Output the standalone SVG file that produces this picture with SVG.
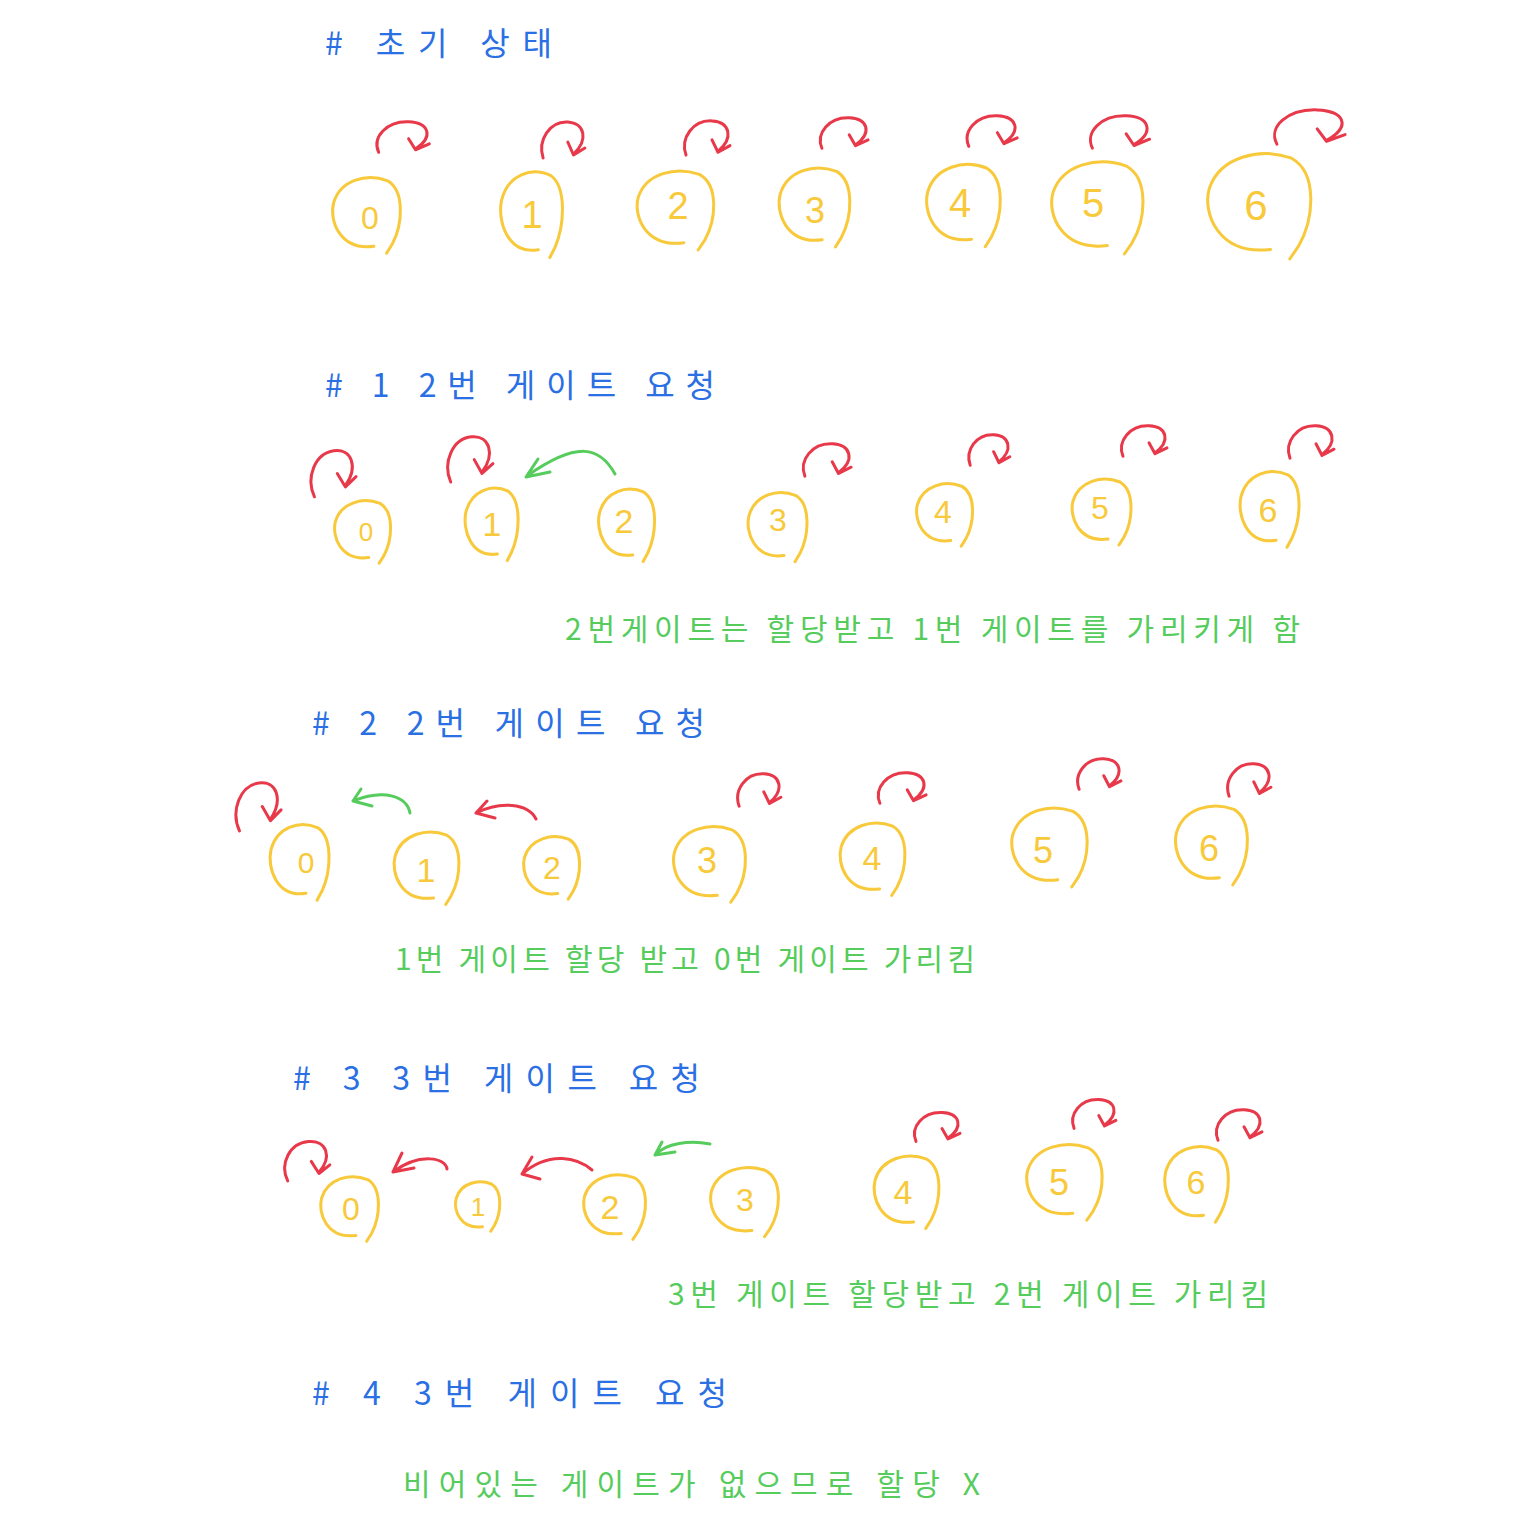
<svg xmlns="http://www.w3.org/2000/svg" xmlns:xlink="http://www.w3.org/1999/xlink" width="1536" height="1534" viewBox="0 0 1536 1534">
<style>
.bg{fill:#ffffff}
.node{fill:none;stroke:#F8C93A;stroke-width:3;stroke-linecap:round;stroke-linejoin:round}
.num{fill:#F8C93A;font-family:"Liberation Sans","DejaVu Sans",sans-serif;text-anchor:middle;dominant-baseline:central}
.loop{fill:none;stroke:#E8394B;stroke-width:3;stroke-linecap:round;stroke-linejoin:round}
.red{fill:none;stroke:#E8394B;stroke-width:3;stroke-linecap:round;stroke-linejoin:round}
.grn{fill:none;stroke:#55CC5C;stroke-width:3;stroke-linecap:round;stroke-linejoin:round}
.head{fill:#2A6FE3;font-family:"Noto Sans CJK KR","Noto Sans",sans-serif;font-size:32px}
.note{fill:#55CC5C;font-family:"Noto Sans CJK KR","Noto Sans",sans-serif;font-size:30px}
</style>
<defs>
<path id="egg" vector-effect="non-scaling-stroke" d="M 6,29 C -24,33 -33,6 -29,-9 C -23,-29 0,-35 18,-28 C 33,-19 31,10 22,27 L 17,35"/>
<path id="curl" vector-effect="non-scaling-stroke" d="M -22,18 C -28,0 -15,-19 4,-18 C 22,-17 26,0 10,14 M 4,2 L 10,15 L 22,8"/>
</defs>
<rect class="bg" width="1536" height="1534"/>

<g id="labels">
<text class="head" x="325" y="55" textLength="227" lengthAdjust="spacing"># 초기 상태</text>
<text class="head" x="325" y="397" textLength="390" lengthAdjust="spacing"># 1  2번 게이트 요청</text>
<text class="note" x="565" y="640" textLength="735" lengthAdjust="spacing">2번게이트는 할당받고 1번 게이트를 가리키게 함</text>
<text class="head" x="312" y="735" textLength="393" lengthAdjust="spacing"># 2  2번 게이트 요청</text>
<text class="note" x="395" y="970" textLength="580" lengthAdjust="spacing">1번 게이트 할당 받고 0번 게이트 가리킴</text>
<text class="head" x="293" y="1090" textLength="407" lengthAdjust="spacing"># 3  3번 게이트 요청</text>
<text class="note" x="668" y="1305" textLength="600" lengthAdjust="spacing">3번 게이트 할당받고 2번 게이트 가리킴</text>
<text class="head" x="312" y="1405" textLength="415" lengthAdjust="spacing"># 4  3번 게이트 요청</text>
<text class="note" x="403" y="1495" textLength="577" lengthAdjust="spacing">비어있는 게이트가 없으므로 할당 X</text>
</g>

<!-- Row 0: initial state -->
<g id="r0-n0"><use href="#egg" class="node" transform="translate(367,213) scale(1.15)"/><text class="num" x="370" y="218" font-size="32">0</text></g>
<g id="r0-n1"><use href="#egg" class="node" transform="translate(532,212) scale(1.05,1.3)"/><text class="num" x="532" y="215" font-size="38">1</text></g>
<g id="r0-n2"><use href="#egg" class="node" transform="translate(676,208) scale(1.3,1.2)"/><text class="num" x="678" y="206" font-size="38">2</text></g>
<g id="r0-n3"><use href="#egg" class="node" transform="translate(815,205) scale(1.2)"/><text class="num" x="815" y="210" font-size="36">3</text></g>
<g id="r0-n4"><use href="#egg" class="node" transform="translate(964,203) scale(1.25)"/><text class="num" x="960" y="203" font-size="40">4</text></g>
<g id="r0-n5"><use href="#egg" class="node" transform="translate(1098,205) scale(1.55,1.4)"/><text class="num" x="1093" y="203" font-size="40">5</text></g>
<g id="r0-n6"><use href="#egg" class="node" transform="translate(1260,203) scale(1.75,1.6)"/><text class="num" x="1256" y="205" font-size="42">6</text></g>

<!-- Row 1 -->
<g id="r1-n0"><use href="#egg" class="node" transform="translate(363,530) scale(0.95)"/><text class="num" x="366" y="532" font-size="26">0</text></g>
<g id="r1-n1"><use href="#egg" class="node" transform="translate(492,522) scale(0.9,1.1)"/><text class="num" x="492" y="524" font-size="34">1</text></g>
<g id="r1-n2"><use href="#egg" class="node" transform="translate(627,523) scale(0.95,1.1)"/><text class="num" x="624" y="521" font-size="34">2</text></g>
<g id="r1-n3"><use href="#egg" class="node" transform="translate(778,525) scale(1.0,1.05)"/><text class="num" x="778" y="520" font-size="32">3</text></g>
<g id="r1-n4"><use href="#egg" class="node" transform="translate(945,513) scale(0.95)"/><text class="num" x="943" y="512" font-size="32">4</text></g>
<g id="r1-n5"><use href="#egg" class="node" transform="translate(1102,510) scale(1.0)"/><text class="num" x="1100" y="508" font-size="32">5</text></g>
<g id="r1-n6"><use href="#egg" class="node" transform="translate(1270,507) scale(1.0,1.15)"/><text class="num" x="1268" y="510" font-size="34">6</text></g>

<!-- Row 2 -->
<g id="r2-n0"><use href="#egg" class="node" transform="translate(300,860) scale(1.0,1.15)"/><text class="num" x="306" y="862" font-size="30">0</text></g>
<g id="r2-n1"><use href="#egg" class="node" transform="translate(427,866) scale(1.1)"/><text class="num" x="426" y="870" font-size="34">1</text></g>
<g id="r2-n2"><use href="#egg" class="node" transform="translate(552,866) scale(0.95)"/><text class="num" x="552" y="868" font-size="32">2</text></g>
<g id="r2-n3"><use href="#egg" class="node" transform="translate(710,862) scale(1.22,1.15)"/><text class="num" x="707" y="860" font-size="36">3</text></g>
<g id="r2-n4"><use href="#egg" class="node" transform="translate(873,857) scale(1.1)"/><text class="num" x="872" y="858" font-size="34">4</text></g>
<g id="r2-n5"><use href="#egg" class="node" transform="translate(1050,845) scale(1.28,1.2)"/><text class="num" x="1043" y="850" font-size="36">5</text></g>
<g id="r2-n6"><use href="#egg" class="node" transform="translate(1212,843) scale(1.22,1.2)"/><text class="num" x="1209" y="848" font-size="36">6</text></g>

<!-- Row 3 -->
<g id="r3-n0"><use href="#egg" class="node" transform="translate(350,1207) scale(0.98)"/><text class="num" x="351" y="1209" font-size="32">0</text></g>
<g id="r3-n1"><use href="#egg" class="node" transform="translate(478,1205) scale(0.75)"/><text class="num" x="478" y="1207" font-size="26">1</text></g>
<g id="r3-n2"><use href="#egg" class="node" transform="translate(615,1205) scale(1.05,0.98)"/><text class="num" x="610" y="1207" font-size="34">2</text></g>
<g id="r3-n3"><use href="#egg" class="node" transform="translate(745,1200) scale(1.15,1.05)"/><text class="num" x="745" y="1200" font-size="32">3</text></g>
<g id="r3-n4"><use href="#egg" class="node" transform="translate(907,1190) scale(1.1)"/><text class="num" x="903" y="1192" font-size="34">4</text></g>
<g id="r3-n5"><use href="#egg" class="node" transform="translate(1065,1180) scale(1.28,1.15)"/><text class="num" x="1059" y="1182" font-size="36">5</text></g>
<g id="r3-n6"><use href="#egg" class="node" transform="translate(1197,1182) scale(1.08,1.15)"/><text class="num" x="1196" y="1182" font-size="34">6</text></g>

<g id="connectors">
<!-- self loops row 0 -->
<use href="#curl" class="loop" transform="translate(404,137) scale(1.15,0.85)"/>
<use href="#curl" class="loop" transform="translate(564,140) scale(0.95,1.0)"/>
<use href="#curl" class="loop" transform="translate(708,138) scale(1.0,0.95)"/>
<use href="#curl" class="loop" transform="translate(845,133) scale(1.05,0.85)"/>
<use href="#curl" class="loop" transform="translate(993,131) scale(1.1,0.85)"/>
<use href="#curl" class="loop" transform="translate(1121,132) scale(1.3,0.9)"/>
<use href="#curl" class="loop" transform="translate(1311,127) scale(1.55,0.95)"/>
<!-- row 1 -->
<use href="#curl" class="loop" transform="translate(333,472) scale(1.0,1.15) rotate(-10)"/>
<use href="#curl" class="loop" transform="translate(470,458) scale(1.0,1.15) rotate(-8)"/>
<use href="#curl" class="loop" transform="translate(828,460) scale(1.05,0.9)"/>
<use href="#curl" class="loop" transform="translate(990,450) scale(0.9,0.85)"/>
<use href="#curl" class="loop" transform="translate(1145,441) scale(1.0,0.85)"/>
<use href="#curl" class="loop" transform="translate(1312,442) scale(1.0,0.9)"/>
<!-- row 2 -->
<use href="#curl" class="loop" transform="translate(258,805) scale(1.0,1.2) rotate(-10)"/>
<use href="#curl" class="loop" transform="translate(760,790) scale(0.95,0.9)"/>
<use href="#curl" class="loop" transform="translate(903,788) scale(1.05,0.85)"/>
<use href="#curl" class="loop" transform="translate(1100,774) scale(0.95,0.85)"/>
<use href="#curl" class="loop" transform="translate(1250,780) scale(0.95,0.9)"/>
<!-- row 3 -->
<use href="#curl" class="loop" transform="translate(307,1160) scale(1.0,1.0) rotate(-8)"/>
<use href="#curl" class="loop" transform="translate(938,1127) scale(1.0,0.8)"/>
<use href="#curl" class="loop" transform="translate(1095,1114) scale(0.95,0.8)"/>
<use href="#curl" class="loop" transform="translate(1240,1125) scale(1.0,0.85)"/>

<!-- pointer arrows -->
<path class="grn" d="M 615,474 C 600,447 578,440 527,476 M 550,472 L 526,477 L 538,459"/>
<path class="grn" d="M 410,813 C 407,797 385,788 353,801 M 353,801 L 361,789 M 353,801 L 372,806"/>
<path class="red" d="M 536,819 C 528,803 500,801 476,813 M 476,813 L 487,801 M 476,813 L 495,818"/>
<path class="red" d="M 447,1169 C 446,1158 420,1152 393,1172 M 393,1172 L 402,1153 M 393,1172 L 414,1168"/>
<path class="red" d="M 592,1170 C 578,1158 550,1150 522,1174 M 522,1174 L 532,1157 M 522,1174 L 540,1179"/>
<path class="grn" d="M 710,1144 C 690,1140 666,1143 655,1155 M 655,1155 L 662,1142 M 655,1155 L 675,1152"/>
</g>
</svg>
